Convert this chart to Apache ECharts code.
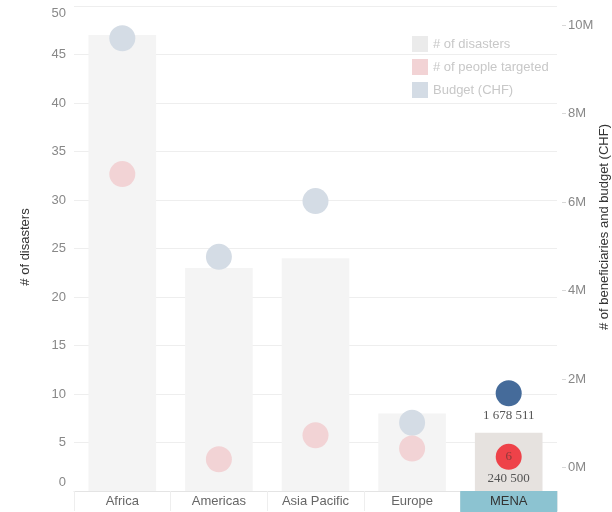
<!DOCTYPE html>
<html><head><meta charset="utf-8">
<script src="https://cdn.jsdelivr.net/npm/echarts@6/dist/echarts.min.js"></script>
<style>html,body{margin:0;padding:0;background:#fff}#c{width:612px;height:512px}</style>
</head><body><div id="c"></div>
<script>
const regions = ['Africa', 'Americas', 'Asia Pacific', 'Europe', 'MENA'];
const disasters = [47, 23, 24, 8, 6];
const peopleTargeted = [6630000, 185000, 730000, 430000, 240500];
const budgetCHF = [9700000, 4760000, 6020000, 1010000, 1678511];
const highlighted = 'MENA';

const fmt = n => String(n).replace(/\B(?=(\d{3})+(?!\d))/g, ' ');
const hi = i => regions[i] === highlighted;

const chart = echarts.init(document.getElementById('c'));
const base = 'Liberation Sans, Arial, sans-serif';
const serif = 'Liberation Serif, Times New Roman, serif';

chart.setOption({
  animation: false,
  textStyle: { fontFamily: base },
  grid: [
    { left: 74, right: 55, top: 6, bottom: 20 },
    { left: 74, right: 55, top: 25, bottom: 44.5 }
  ],
  legend: {
    orient: 'vertical', left: 412, top: 36, padding: 0, itemWidth: 16, itemHeight: 16, itemGap: 7,
    icon: 'rect', selectedMode: false,
    textStyle: { color: '#c8c8c8', fontSize: 13, fontFamily: base },
    data: [
      { name: '# of disasters', itemStyle: { color: '#ebebeb' } },
      { name: '# of people targeted', itemStyle: { color: '#f2d3d5' } },
      { name: 'Budget (CHF)', itemStyle: { color: '#d4dce5' } }
    ]
  },
  xAxis: [
    {
      type: 'category', gridIndex: 0, data: regions,
      axisLine: { lineStyle: { color: '#e4e4e4' } },
      axisTick: { show: true, length: 20, lineStyle: { color: '#eeeeee' } },
      axisLabel: {
        margin: 0, interval: 0,
        formatter: v => v === highlighted ? '{s|' + v + '}' : '{n|' + v + '}',
        rich: {
          n: { color: '#666', fontSize: 13, lineHeight: 21, height: 21, fontFamily: base },
          s: { color: '#333', fontSize: 13, lineHeight: 21, height: 21, width: 97, align: 'center', backgroundColor: '#8cc3d1', fontFamily: base }
        }
      }
    },
    { type: 'category', gridIndex: 1, data: regions, show: false }
  ],
  yAxis: [
    {
      type: 'value', gridIndex: 0, min: 0, max: 50, interval: 5, position: 'left',
      axisLine: { show: false }, axisTick: { show: false },
      splitLine: { lineStyle: { color: '#eeeeee' } },
      axisLabel: {
        margin: 8,
        formatter: v => v === 50 ? '{t|50}' : (v === 0 ? '{b|0}' : '{m|' + v + '}'),
        rich: {
          t: { color: '#888', fontSize: 13, padding: [14, 0, 0, 0] },
          b: { color: '#888', fontSize: 13, padding: [0, 0, 18, 0] },
          m: { color: '#888', fontSize: 13 }
        }
      }
    },
    {
      type: 'value', gridIndex: 1, min: 0, max: 10000000, interval: 2000000, position: 'right',
      offset: 5,
      axisLine: { show: false },
      axisTick: { show: true, length: 4, lineStyle: { color: '#d8d8d8' } },
      splitLine: { show: false },
      axisLabel: { margin: 6, color: '#888', fontSize: 13, formatter: v => (v / 1e6) + 'M' }
    }
  ],
  graphic: [
    { type: 'text', x: 25, y: 247, rotation: Math.PI / 2,
      style: { text: '# of disasters', fill: '#333', font: '13px ' + base, align: 'center', verticalAlign: 'middle' } },
    { type: 'text', x: 604, y: 227, rotation: Math.PI / 2,
      style: { text: '# of beneficiaries and budget (CHF)', fill: '#333', font: '13px ' + base, align: 'center', verticalAlign: 'middle' } }
  ],
  series: [
    {
      name: '# of disasters', type: 'bar', xAxisIndex: 0, yAxisIndex: 0, barWidth: '70%',
      itemStyle: { color: '#f4f4f4' },
      data: disasters.map((v, i) => ({ value: v, itemStyle: { color: hi(i) ? '#e6e2df' : '#f4f4f4' } }))
    },
    {
      name: 'Budget (CHF)', type: 'scatter', xAxisIndex: 1, yAxisIndex: 1, symbolSize: 26, clip: false,
      itemStyle: { color: '#d4dce5', opacity: 1 },
      data: budgetCHF.map((v, i) => ({
        value: v,
        itemStyle: { color: hi(i) ? '#456b9a' : '#d4dce5' },
        label: hi(i) ? { show: true, position: 'bottom', distance: 3, formatter: fmt(v), color: '#555', fontSize: 13, fontFamily: serif } : { show: false }
      }))
    },
    {
      name: '# of people targeted', type: 'scatter', xAxisIndex: 1, yAxisIndex: 1, symbolSize: 26, clip: false,
      itemStyle: { color: '#f2d3d5', opacity: 1 },
      data: peopleTargeted.map((v, i) => ({
        value: v,
        itemStyle: { color: hi(i) ? '#ee4249' : '#f2d3d5' },
        label: hi(i) ? {
          show: true, position: 'inside', offset: [0, 11],
          formatter: '{a|' + disasters[i] + '}\n{b|' + fmt(v) + '}',
          rich: {
            a: { color: '#8a3a3a', fontSize: 13, lineHeight: 22, fontFamily: serif },
            b: { color: '#555', fontSize: 13, lineHeight: 22, fontFamily: serif }
          }
        } : { show: false }
      }))
    }
  ]
});
</script></body></html>
